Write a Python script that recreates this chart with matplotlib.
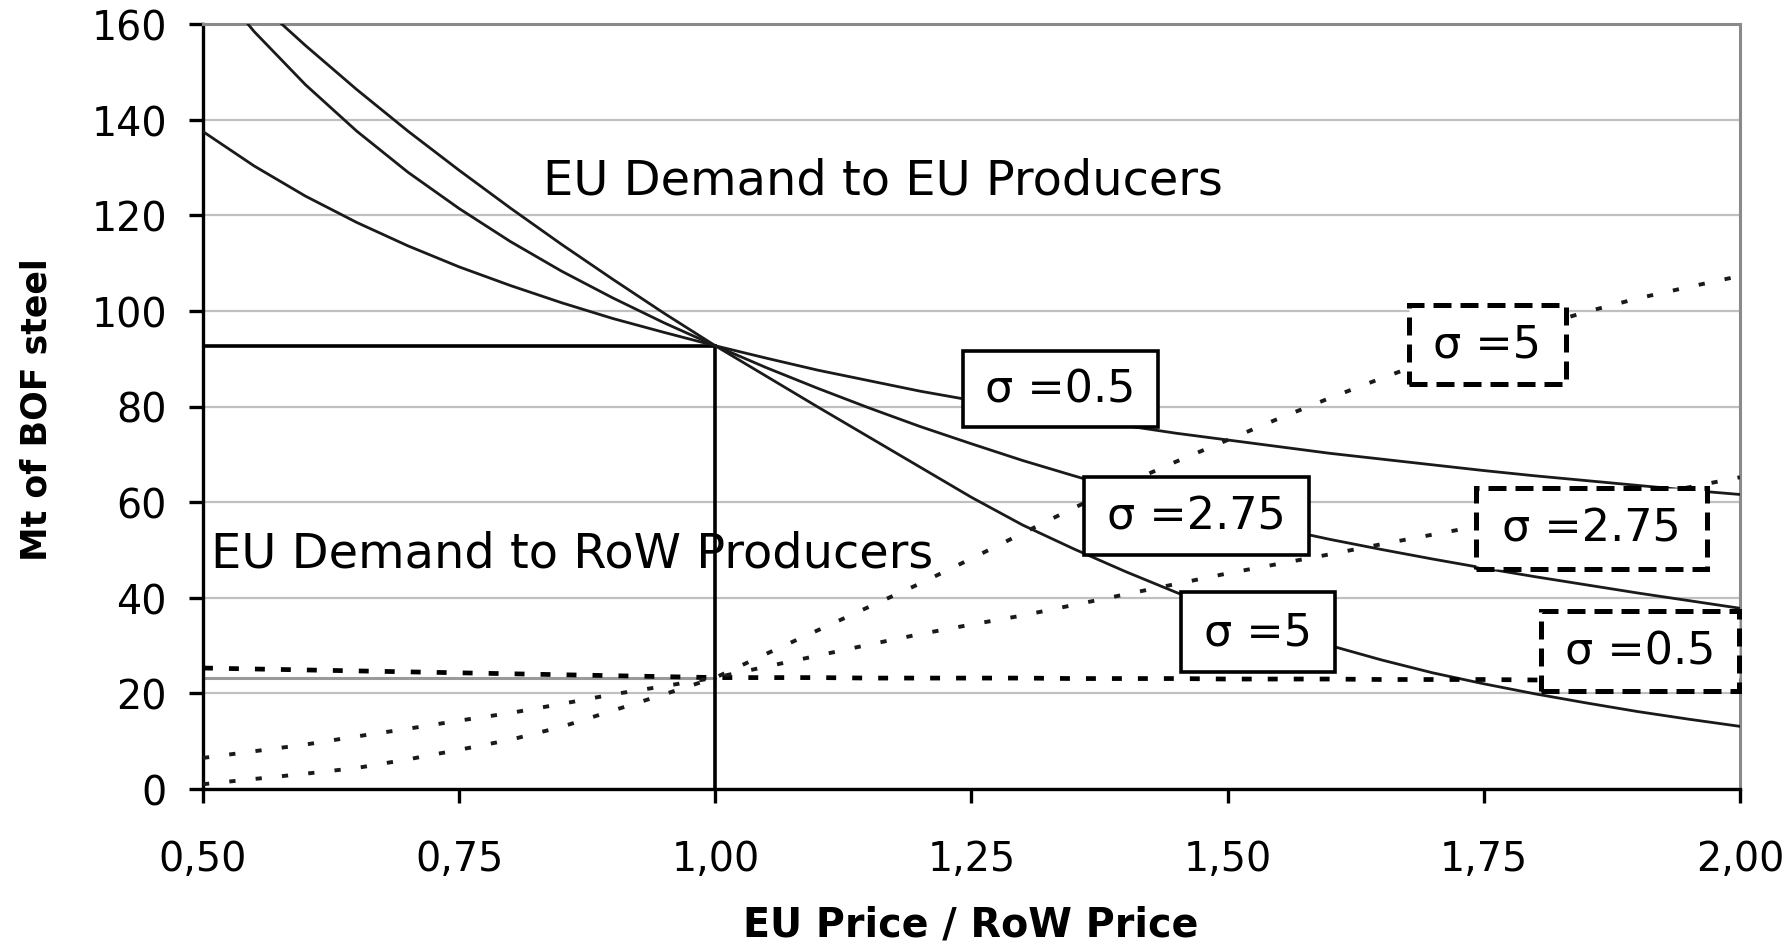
import matplotlib
matplotlib.use("Agg")
import matplotlib.pyplot as plt
from matplotlib.patches import Rectangle

# ---------------- data ----------------
price_ratio = [0.50, 0.55, 0.60, 0.65, 0.70, 0.75, 0.80, 0.85, 0.90, 0.95, 1.00,
               1.05, 1.10, 1.15, 1.20, 1.25, 1.30, 1.35, 1.40, 1.45, 1.50,
               1.55, 1.60, 1.65, 1.70, 1.75, 1.80, 1.85, 1.90, 1.95, 2.00]

# EU demand to EU producers (solid curves)
eu_sigma_05 = [137.5, 130.3, 124.0, 118.5, 113.6, 109.2, 105.3, 101.7, 98.4, 95.5, 92.7,
               90.1, 87.6, 85.4, 83.2, 81.3, 79.4, 77.7, 76.0, 74.4, 73.0,
               71.6, 70.2, 69.0, 67.8, 66.6, 65.5, 64.5, 63.5, 62.5, 61.6]
eu_sigma_275 = [171.3, 158.4, 147.3, 137.6, 129.0, 121.4, 114.5, 108.3, 102.7, 97.5, 92.7,
                88.1, 83.8, 79.7, 75.8, 72.2, 68.7, 65.5, 62.4, 59.6, 56.9,
                54.5, 52.2, 50.1, 48.1, 46.2, 44.4, 42.7, 41.0, 39.4, 37.8]
eu_sigma_5 = [175.7, 165.2, 155.5, 146.3, 137.6, 129.4, 121.5, 113.9, 106.6, 99.5, 92.7,
              86.3, 79.9, 73.6, 67.3, 61.0, 55.2, 50.2, 45.5, 41.1, 37.0,
              33.3, 30.0, 27.0, 24.3, 22.0, 19.9, 18.0, 16.2, 14.6, 13.1]

# EU demand to RoW producers (dotted curves)
row_sigma_05 = [25.3, 25.1, 24.9, 24.7, 24.5, 24.3, 24.1, 23.9, 23.7, 23.5, 23.3,
                23.3, 23.3, 23.2, 23.2, 23.2, 23.2, 23.1, 23.1, 23.1, 23.0,
                23.0, 23.0, 22.9, 22.9, 22.9, 22.8, 22.8, 22.8, 22.7, 22.7]
row_sigma_275 = [6.5, 7.9, 9.3, 11.0, 12.6, 14.3, 15.9, 17.8, 19.8, 21.5, 23.3,
                 25.6, 27.9, 30.2, 32.4, 34.4, 36.3, 38.5, 40.7, 42.9, 45.1,
                 47.1, 49.1, 51.2, 53.2, 55.2, 57.1, 59.1, 61.0, 63.1, 65.2]
row_sigma_5 = [1.0, 2.1, 3.2, 4.4, 6.2, 8.2, 10.3, 13.0, 16.4, 19.8, 23.3,
               28.3, 33.2, 38.1, 43.0, 48.2, 53.5, 58.8, 63.8, 68.5, 73.0,
               77.5, 81.8, 85.9, 89.8, 93.3, 96.6, 99.8, 102.6, 105.0, 107.3]

# reference point (price ratio 1)
ref_ratio = 1.0
ref_eu = 92.7
ref_row = 23.3

x_ticks = [0.50, 0.75, 1.00, 1.25, 1.50, 1.75, 2.00]
x_tick_labels = ["0,50", "0,75", "1,00", "1,25", "1,50", "1,75", "2,00"]
y_ticks = [0, 20, 40, 60, 80, 100, 120, 140, 160]

eu_labels = ["\u03c3 =0.5", "\u03c3 =2.75", "\u03c3 =5"]
row_labels = ["\u03c3 =5", "\u03c3 =2.75", "\u03c3 =0.5"]

# ---------------- figure ----------------
W, H, DPI = 1791, 945, 100
fig = plt.figure(figsize=(W / DPI, H / DPI), dpi=DPI)
ax = fig.add_axes([203 / W, 1 - 790 / H, (1740 - 203) / W, (790 - 25) / H])

ax.set_xlim(0.5, 2.0)
ax.set_ylim(0, 160)

# grid
ax.set_yticks(y_ticks)
ax.yaxis.grid(True, color="#c0c0c0", linewidth=1.6, zorder=0)
ax.set_axisbelow(True)

# spines
for s in ["left", "bottom"]:
    ax.spines[s].set_color("black")
    ax.spines[s].set_linewidth(2.4)
for s in ["top", "right"]:
    ax.spines[s].set_color("#8a8a8a")
    ax.spines[s].set_linewidth(2.2)

# ticks
ax.set_xticks(x_ticks)
ax.set_xticklabels(x_tick_labels)
ax.tick_params(axis="both", direction="out", length=10, width=2.4, color="black",
               labelsize=28.5, labelcolor="black")
ax.tick_params(axis="y", pad=16)
ax.tick_params(axis="x", pad=26)

# reference lines
ax.plot([0.5, ref_ratio], [ref_row, ref_row], color="#9a9a9a", lw=2.2, zorder=2)
ax.plot([0.5, ref_ratio], [ref_eu, ref_eu], color="black", lw=2.6, zorder=3)
ax.plot([ref_ratio, ref_ratio], [0, ref_eu], color="black", lw=2.6, zorder=3)

# solid curves (EU producers)
for ys in (eu_sigma_05, eu_sigma_275, eu_sigma_5):
    ax.plot(price_ratio, ys, color="#1a1a1a", lw=2.0, zorder=3,
            solid_joinstyle="round")

# dotted curves (RoW producers)
ax.plot(price_ratio, row_sigma_05, color="black", lw=3.4, dashes=(2.1, 3.4), zorder=3)
ax.plot(price_ratio, row_sigma_275, color="#1a1a1a", lw=2.8, dashes=(1.6, 5.2), zorder=3)
ax.plot(price_ratio, row_sigma_5, color="#1a1a1a", lw=2.8, dashes=(1.6, 5.2), zorder=3)

# curve labels in boxes
solid_boxes = [(1.242, 1.432, 75.7, 91.6), (1.360, 1.579, 49.0, 65.2), (1.454, 1.605, 24.5, 41.3)]
dashed_boxes = [(1.677, 1.830, 84.7, 101.3), (1.742, 1.968, 46.1, 62.9), (1.806, 1.999, 20.5, 37.3)]

for (x0, x1, y0, y1), lab in zip(solid_boxes, eu_labels):
    ax.add_patch(Rectangle((x0, y0), x1 - x0, y1 - y0, facecolor="white", edgecolor="black",
                           lw=2.6, zorder=5, clip_on=False))
    ax.text((x0 + x1) / 2, (y0 + y1) / 2, lab, ha="center", va="center", fontsize=32,
            zorder=6)

for (x0, x1, y0, y1), lab in zip(dashed_boxes, row_labels):
    ax.add_patch(Rectangle((x0, y0), x1 - x0, y1 - y0, facecolor="white", edgecolor="black",
                           lw=3.6, linestyle=(0, (3.6, 1.8)), zorder=5, clip_on=False))
    ax.text((x0 + x1) / 2, (y0 + y1) / 2, lab, ha="center", va="center", fontsize=32,
            zorder=6)

# region annotations
ax.text(0.832, 124.6, "EU Demand to EU Producers", ha="left", va="baseline", fontsize=34.5,
        zorder=4)
ax.text(0.508, 46.5, "EU Demand to RoW Producers", ha="left", va="baseline", fontsize=34.5,
        zorder=4)

# axis labels
fig.text(971 / W, 1 - 926 / H, "EU Price / RoW Price", ha="center", va="center",
         fontsize=28.5, fontweight="bold")
fig.text(37 / W, 1 - 410 / H, "Mt of BOF steel", ha="center", va="center",
         fontsize=25, fontweight="bold", rotation=90)

fig.savefig("out.png", dpi=DPI)
